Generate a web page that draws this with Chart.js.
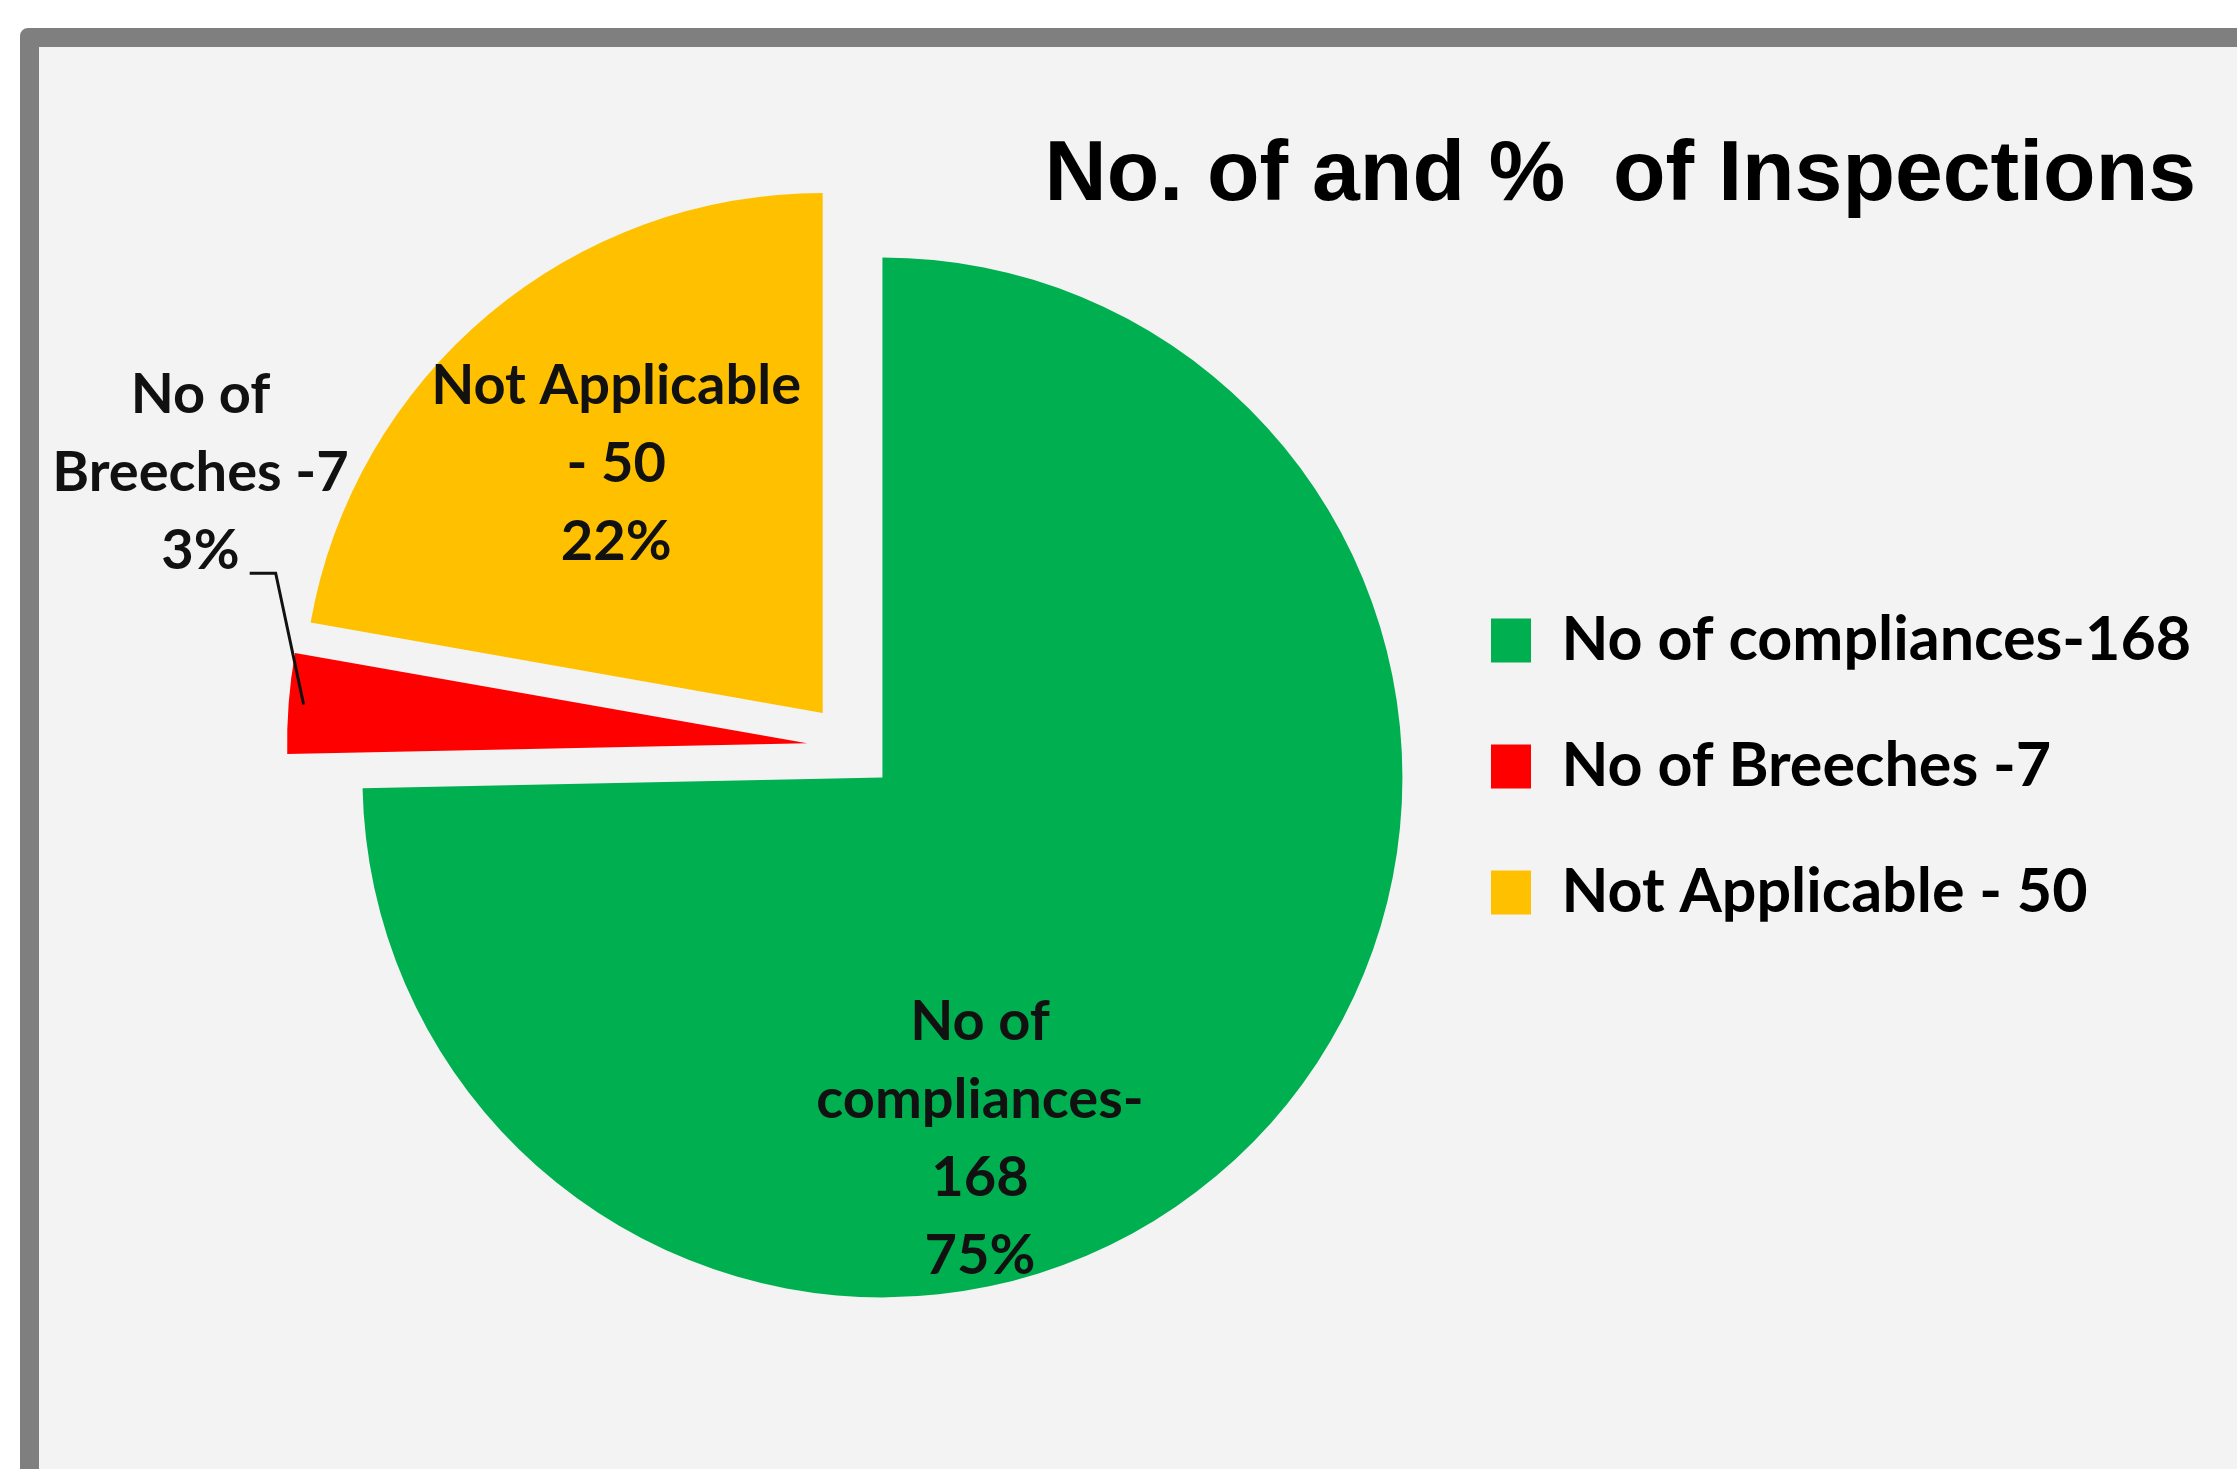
<!DOCTYPE html>
<html lang="en">
<head>
  <meta charset="UTF-8">
  <title>No. of and % of Inspections</title>
  <script src="https://cdn.jsdelivr.net/npm/chart.js"></script>
  <style>
    body {
      margin: 0;
      background: #fff;
      overflow: hidden;
    }
    .frame {
      position: absolute;
      left: 20px;
      top: 28px;
      width: 2400px;
      height: 1600px;
      border: 19px solid #7f7f7f;
      border-radius: 8px;
      background: #f3f3f3;
    }
    #inspectionChart {
      position: absolute;
      left: 0;
      top: 0;
    }
  </style>
</head>
<body>
  <div class="frame"></div>
  <canvas id="inspectionChart" width="2237" height="1469"></canvas>

  <script>
    const categories = ['No of compliances-168', 'No of Breeches -7', 'Not Applicable - 50'];
    const inspections = [168, 7, 50];
    // wrapped text written on/next to each slice, the share goes underneath
    const sliceLabelLines = [
      ['No of', 'compliances-', '168'],
      ['No of', 'Breeches -7'],
      ['Not Applicable', '- 50']
    ];

    const total = inspections.reduce((a, b) => a + b, 0);

    // Chart.js grows exploded slices and trims their angles a little;
    // undo both so every slice keeps one radius and straight radial edges
    const evenExplode = {
      id: 'evenExplode',
      beforeDatasetDraw(chart, args) {
        args.meta.data.forEach(arc => {
          const shift = (arc.options.offset || 0) / 4;
          const fix = 1 - Math.sin(Math.min(Math.PI, arc.circumference));
          const grow = shift * fix;
          arc.saved = [arc.outerRadius, arc.startAngle, arc.endAngle];
          const widen = grow / (2 * Math.PI * arc.outerRadius);
          arc.outerRadius -= grow;
          arc.startAngle -= widen;
          arc.endAngle += widen;
        });
      },
      afterDatasetDraw(chart, args) {
        args.meta.data.forEach(arc => {
          [arc.outerRadius, arc.startAngle, arc.endAngle] = arc.saved;
        });
      }
    };

    // name, value and percent for every slice
    const sliceLabels = {
      id: 'sliceLabels',
      afterDatasetsDraw(chart, args, opts) {
        const ctx = chart.ctx;
        const arcs = chart.getDatasetMeta(0).data;
        ctx.save();
        ctx.font = opts.font;
        ctx.fillStyle = opts.color;
        ctx.textAlign = 'center';
        ctx.textBaseline = 'middle';
        arcs.forEach((arc, i) => {
          const place = opts.places[i];
          const a = (place.angle - 90) * Math.PI / 180;
          const cx = arc.x + Math.cos(a) * place.dist * arc.outerRadius;
          const cy = arc.y + Math.sin(a) * place.dist * arc.outerRadius;
          const pct = Math.round(inspections[i] / total * 100) + '%';
          const lines = [...sliceLabelLines[i], pct];
          const top = cy - (lines.length - 1) * opts.lineGap / 2;
          lines.forEach((t, k) => ctx.fillText(t, cx, top + k * opts.lineGap));

          if (place.leader) {
            const lastY = top + (lines.length - 1) * opts.lineGap;
            const sx = cx + ctx.measureText(pct).width / 2 + 10;
            const sy = lastY + 22;
            const mid = (arc.startAngle + arc.endAngle) / 2;
            const reach = (arc.options.offset || 0) / 4 + arc.outerRadius - 15;
            ctx.beginPath();
            ctx.moveTo(sx, sy);
            ctx.lineTo(sx + 26, sy);
            ctx.lineTo(arc.x + Math.cos(mid) * reach, arc.y + Math.sin(mid) * reach);
            ctx.strokeStyle = opts.color;
            ctx.lineWidth = 3;
            ctx.stroke();
          }
        });
        ctx.restore();
      }
    };

    Chart.defaults.font.family = 'Lato';

    new Chart(document.getElementById('inspectionChart'), {
      type: 'pie',
      data: {
        labels: categories,
        datasets: [{
          data: inspections,
          backgroundColor: ['#00b050', '#ff0000', '#ffc000'],
          borderWidth: 0,
          offset: 176,
          radius: 520
        }]
      },
      options: {
        responsive: false,
        animation: false,
        layout: {
          padding: { left: 276, right: 41, top: 0, bottom: 119 }
        },
        plugins: {
          title: {
            display: true,
            text: 'No. of and %  of Inspections',
            align: 'end',
            color: '#000',
            font: { family: 'Liberation Sans', size: 86, weight: 'bold' },
            padding: { top: 125, bottom: -85 }
          },
          legend: {
            position: 'right',
            fullSize: false,
            maxWidth: 770,
            title: { display: true, text: '', font: { size: 10 }, padding: { top: 28, bottom: 0 } },
            labels: {
              color: '#000',
              font: { family: 'Lato', size: 61, weight: 'bold' },
              boxWidth: 40,
              boxHeight: 44,
              padding: 65
            }
          },
          tooltip: { enabled: false },
          sliceLabels: {
            font: 'bold 56px Lato',
            color: '#111',
            lineGap: 78,
            places: [
              { angle: 161.8, dist: 0.794 },
              { angle: 292.8, dist: 1.357, leader: true },
              { angle: 320.3, dist: 0.707 }
            ]
          }
        }
      },
      plugins: [evenExplode, sliceLabels]
    });
  </script>
</body>
</html>
